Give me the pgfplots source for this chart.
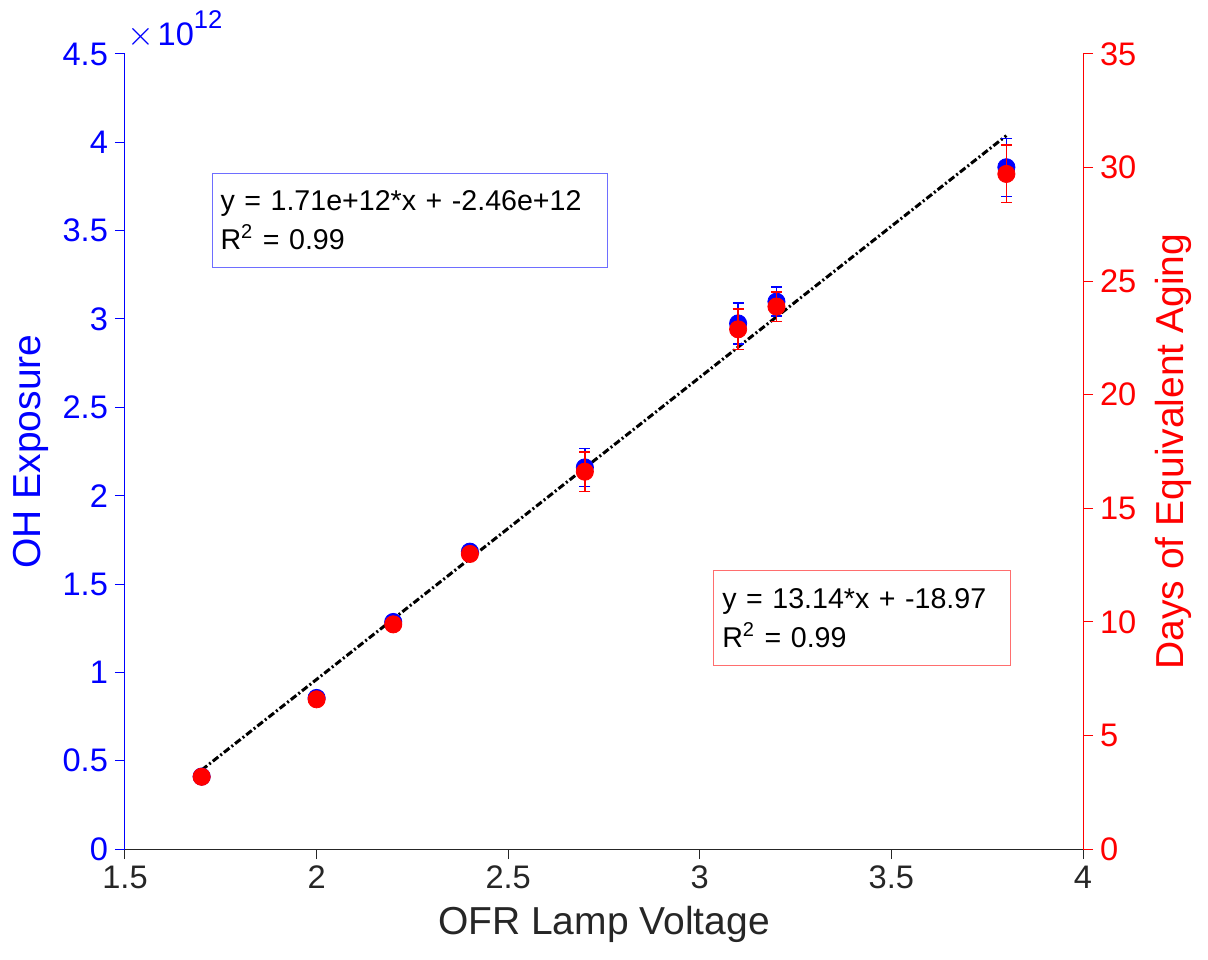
\documentclass[border=0pt]{standalone}
\usepackage{fontspec}
\setmainfont{Liberation Sans}
\usepackage{pgfplots}
\usepackage{pgfplotstable}
\pgfplotsset{compat=1.18}

\definecolor{axgray}{rgb}{0.15,0.15,0.15}
\definecolor{boxblue}{RGB}{110,110,255}
\definecolor{boxred}{RGB}{255,110,110}

% OH exposure (units of 1e12 molec cm^-3 s) vs lamp voltage
\pgfplotstableread{
x    y      e
1.7  0.410  0.010
2.0  0.855  0.015
2.2  1.285  0.010
2.4  1.683  0.010
2.7  2.160  0.108
3.1  2.975  0.116
3.2  3.098  0.082
3.8  3.859  0.164
}\ohdata

% equivalent atmospheric aging in days
\pgfplotstableread{
x    y      e
1.7  3.18   0.08
2.0  6.59   0.12
2.2  9.89   0.08
2.4  12.99  0.08
2.7  16.61  0.86
3.1  22.88  0.90
3.2  23.88  0.65
3.8  29.72  1.27
}\daysdata

\begin{document}
\begin{tikzpicture}
\useasboundingbox (0,0) rectangle (604pt,479.5pt);
\pgfplotsset{
  twin/.style={
    scale only axis, width=479pt, height=397.5pt,
    at={(62.5pt,55pt)}, anchor=south west,
    xmin=1.5, xmax=4,
    tick align=outside, major tick length=5pt,
    /pgf/number format/assume math mode=true,
    ticklabel style={font=\fontsize{16.3}{16.3}\selectfont},
  },
}

\begin{axis}[twin, name=left,
  axis x line*=bottom, axis y line*=left,
  ymin=0, ymax=4.5,
  xtick={1.5,2,2.5,3,3.5,4},
  ytick={0,0.5,1,1.5,2,2.5,3,3.5,4,4.5},
  x axis line style={axgray, line width=0.5pt, -},
  y axis line style={blue, line width=0.5pt, -},
  xtick style={axgray, line width=0.5pt},
  ytick style={blue, line width=0.5pt},
  xticklabel style={text=axgray},
  yticklabel style={text=blue},
  every axis x label/.style={at={(axis description cs:0.5,-0.108)}, anchor=base,
    font=\fontsize{19.5}{19.5}\selectfont, text=axgray},
  every axis y label/.style={at={(axis description cs:-0.0887,0.5)}, rotate=90, anchor=base,
    font=\fontsize{19.5}{19.5}\selectfont, text=blue},
  xlabel={OFR Lamp Voltage},
  ylabel={OH Exposure},
]
% linear fit: y = 1.71e12 x - 2.46e12
\addplot[black, line width=1.5pt, dash pattern=on 3.5pt off 1.3pt on 1pt off 1.3pt]
  coordinates {(1.7,0.447) (3.8,4.038)};
\addplot[blue, only marks, mark=*, mark size=4.3pt, mark options={fill=blue, draw=blue},
  error bars/.cd, y dir=both, y explicit,
  error bar style={blue, line width=0.7pt},
  error mark=-,
  error mark options={rotate=90, blue, mark size=2.8pt, line width=0.7pt}]
  table[x=x, y=y, y error=e] {\ohdata};
\node[draw=boxblue, line width=0.6pt, anchor=north west, text width=189.2pt,
  inner xsep=4.15pt, minimum height=47pt, align=left, text=black,
  font=\fontsize{14.3}{19.2}\selectfont]
  at (axis cs:1.7262,3.828) {y = 1.71e+12*x + -2.46e+12\\R\textsuperscript{2} = 0.99};
\node[draw=boxred, line width=0.6pt, anchor=north west, text width=139.65pt,
  inner xsep=4.5pt, minimum height=47.5pt, align=left, text=black,
  font=\fontsize{14.3}{19.2}\selectfont]
  at (axis cs:3.0337,1.579) {y = 13.14*x + -18.97\\R\textsuperscript{2} = 0.99};
\end{axis}

\begin{axis}[twin,
  axis y line*=right, axis x line=none,
  ymin=0, ymax=35,
  ytick={0,5,10,15,20,25,30,35},
  y axis line style={red, line width=0.5pt, -},
  ytick style={red, line width=0.5pt},
  yticklabel style={text=red},
  every axis y label/.style={at={(axis description cs:1.1044,0.5)}, rotate=90, anchor=base,
    font=\fontsize{19.5}{19.5}\selectfont, text=red},
  ylabel={Days of Equivalent Aging},
]
\addplot[red, only marks, mark=*, mark size=4.3pt, mark options={fill=red, draw=red},
  error bars/.cd, y dir=both, y explicit,
  error bar style={red, line width=0.7pt},
  error mark=-,
  error mark options={rotate=90, red, mark size=2.8pt, line width=0.7pt}]
  table[x=x, y=y, y error=e] {\daysdata};
\end{axis}

\node[anchor=base west, text=blue, inner sep=0pt, font=\fontsize{16.3}{16.3}\selectfont]
  at ([xshift=1.2pt, yshift=4pt]left.north west)
  {$\times$\hspace{1.5pt}10\raisebox{0.55em}{\fontsize{12.8}{12.8}\selectfont 12}};
\end{tikzpicture}
\end{document}
